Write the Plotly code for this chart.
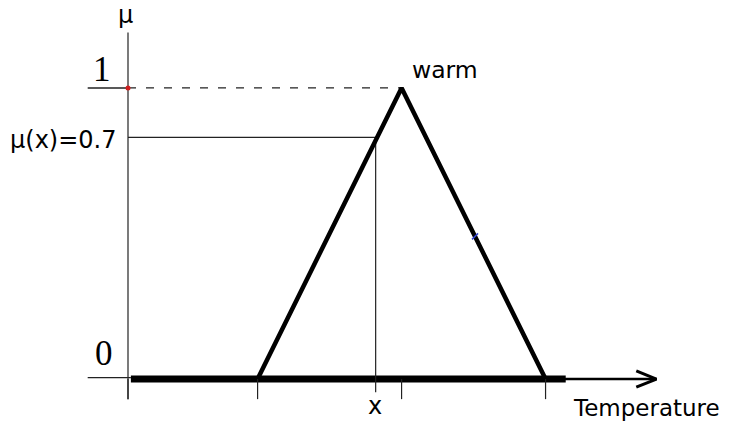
"""Triangular membership function 'warm' drawn with Plotly."""

import plotly.graph_objects as go

# membership function corners (temperature units, membership degree)
warm_x = [9, 19, 29]
warm_mu = [0, 1, 0]

# the chosen input x and its membership level as drawn
x_value = 17.2
mu_level = 0.83
mu_label = "μ(x)=0.7"

# tick marks under the horizontal axis
tick_x = [0, 9, 19, 29]

# axis extents
x_axis_left = -2.8
x_thick_end = 30.4
x_axis_end = 36.7
y_axis_top = 1.19
tick_bottom = -0.069

# small blue scan mark sitting on the falling edge
blue_mark_x = 24.1

INK = "#000000"
THIN = "#222222"

fig = go.Figure()

# vertical axis
fig.add_trace(go.Scatter(
    x=[0, 0], y=[tick_bottom, y_axis_top], mode="lines",
    line=dict(color=THIN, width=1.2), hoverinfo="skip",
))

# thin horizontal axis pieces
fig.add_trace(go.Scatter(
    x=[x_axis_left, 0.2], y=[0.005, 0.005], mode="lines",
    line=dict(color=THIN, width=1.2), hoverinfo="skip",
))
fig.add_trace(go.Scatter(
    x=[x_thick_end - 0.2, x_axis_end], y=[0, 0], mode="lines",
    line=dict(color=INK, width=2.5), hoverinfo="skip",
))

# arrow head
fig.add_trace(go.Scatter(
    x=[x_axis_end - 1.4, x_axis_end, x_axis_end - 1.4],
    y=[0.028, 0, -0.028], mode="lines",
    line=dict(color=INK, width=3), hoverinfo="skip",
))

# thick universe line
fig.add_trace(go.Scatter(
    x=[0.2, x_thick_end], y=[0, 0], mode="lines",
    line=dict(color=INK, width=7), hoverinfo="skip",
))

# ticks below axis
for tx in tick_x:
    fig.add_trace(go.Scatter(
        x=[tx, tx], y=[0, tick_bottom], mode="lines",
        line=dict(color=THIN, width=1.2), hoverinfo="skip",
    ))

# level 1 tick to the left of the axis and dashed guide to apex
fig.add_trace(go.Scatter(
    x=[x_axis_left, 0], y=[1, 1], mode="lines",
    line=dict(color=THIN, width=1.5), hoverinfo="skip",
))
fig.add_trace(go.Scatter(
    x=[0, warm_x[1]], y=[1, 1], mode="lines",
    line=dict(color=THIN, width=1.2, dash="8px,10px"), hoverinfo="skip",
))

# mu(x) guides
fig.add_trace(go.Scatter(
    x=[0, x_value, x_value], y=[mu_level, mu_level, -0.045], mode="lines",
    line=dict(color=THIN, width=1.2), hoverinfo="skip",
))

# triangle
fig.add_trace(go.Scatter(
    x=warm_x, y=warm_mu, mode="lines",
    line=dict(color=INK, width=4.5), hoverinfo="skip",
))

# red dot where level 1 meets the axis
fig.add_trace(go.Scatter(
    x=[0], y=[1], mode="markers",
    marker=dict(color="#d02020", size=5), hoverinfo="skip",
))

# blue speck on the right edge
blue_mark_y = (warm_x[2] - blue_mark_x) / (warm_x[2] - warm_x[1])
fig.add_trace(go.Scatter(
    x=[blue_mark_x], y=[blue_mark_y], mode="markers",
    marker=dict(symbol="line-ne", size=6, line=dict(color="#3344cc", width=1.5)),
    hoverinfo="skip",
))

labels = [
    ("μ", -0.17, 1.25, 24, "DejaVu Sans", "center"),
    ("1", -1.8, 1.062, 35, "Liberation Serif", "center"),
    ("0", -1.7, 0.088, 35, "Liberation Serif", "center"),
    (mu_label, -0.7, 0.82, 24, "DejaVu Sans", "right"),
    ("warm", 22.0, 1.06, 23.5, "DejaVu Sans", "center"),
    ("x", 17.15, -0.093, 24, "DejaVu Sans", "center"),
    ("Temperature", 36.0, -0.10, 23, "DejaVu Sans", "center"),
]
for text, lx, ly, size, family, anchor in labels:
    fig.add_annotation(
        text=text, x=lx, y=ly, xref="x", yref="y",
        showarrow=False, xanchor=anchor, yanchor="middle",
        font=dict(size=size, family=family, color=INK),
    )

fig.update_layout(
    width=729, height=423,
    margin=dict(l=0, r=0, t=0, b=0),
    plot_bgcolor="white", paper_bgcolor="white",
    showlegend=False,
    xaxis=dict(range=[-8.89, 41.74], visible=False, fixedrange=True),
    yaxis=dict(range=[-0.151, 1.302], visible=False, fixedrange=True),
)

# drop the default 8px body margin so the figure fills the window
fig.write_html(
    "out.html",
    config={"displayModeBar": False},
    post_script="document.body.style.margin = '0';",
)
